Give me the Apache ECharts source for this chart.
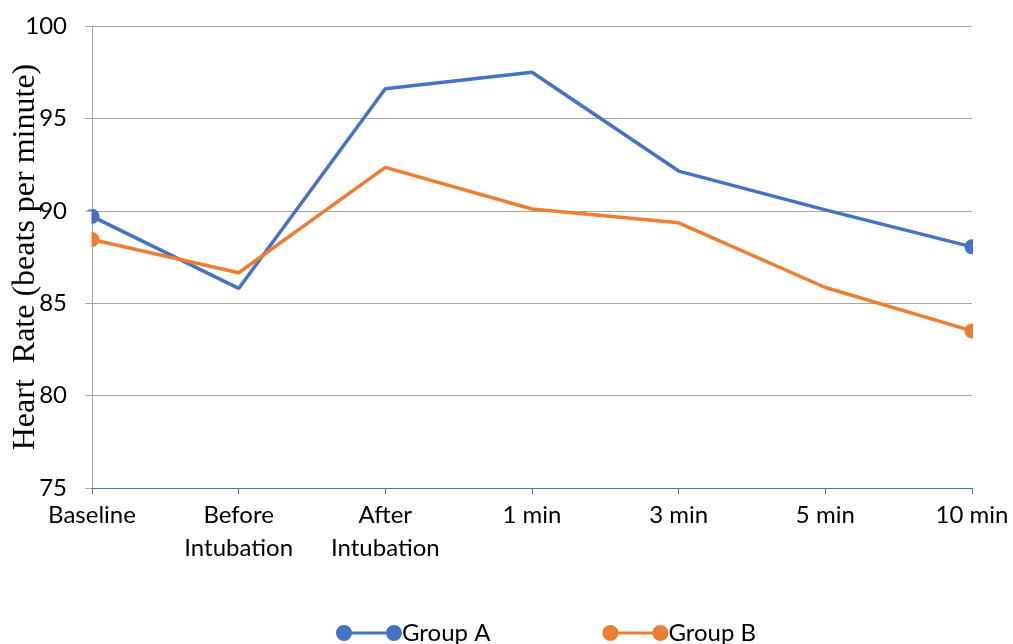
<!DOCTYPE html>
<html>
<head>
<meta charset="utf-8">
<script src="https://cdn.jsdelivr.net/npm/echarts@6/dist/echarts.min.js"></script>
<style>html,body{margin:0;padding:0;background:#fff;}#c{width:1013px;height:644px;}</style>
</head>
<body>
<div id="c"></div>
<script>
var categories = ['Baseline', 'Before\nIntubation', 'After\nIntubation', '1 min', '3 min', '5 min', '10 min'];
var groupA = [89.7, 85.8, 96.6, 97.5, 92.15, 90.05, 88.05];
var groupB = [88.45, 86.65, 92.35, 90.1, 89.35, 85.85, 83.5];
var yTicks = [75, 80, 85, 90, 95, 100];

var legendIcon = 'path://M0,8 A8,8 0 1,1 16,8 A8,8 0 1,1 0,8 Z M14,6.5 L52,6.5 L52,9.5 L14,9.5 Z M50,8 A8,8 0 1,1 66,8 A8,8 0 1,1 50,8 Z';
function endSymbol(v, p) { return (p.dataIndex === 0 || p.dataIndex === categories.length - 1) ? 15 : 0; }

var chart = echarts.init(document.getElementById('c'));
chart.setOption({
  animation: false,
  textStyle: { fontFamily: 'Lato' },
  grid: { left: 92, right: 41, top: 26, bottom: 156, outerBoundsMode: 'none', containLabel: false },
  legend: {
    top: 616, left: 331,
    itemWidth: 66, itemHeight: 16, itemGap: 112,
    textStyle: { fontSize: 24, color: '#000', fontFamily: 'Lato', padding: [0, 0, 0, -5] },
    data: [{ name: 'Group A', icon: legendIcon }, { name: 'Group B', icon: legendIcon }]
  },
  xAxis: {
    type: 'category', data: categories, boundaryGap: false,
    axisLine: { lineStyle: { color: '#4472C4', width: 1 } },
    axisTick: { show: true, length: 6, lineStyle: { color: '#4472C4' } },
    axisLabel: { fontSize: 24, color: '#000', margin: 11, lineHeight: 33, fontFamily: 'Lato' },
    splitLine: { show: false }
  },
  yAxis: {
    type: 'value', min: yTicks[0], max: yTicks[yTicks.length - 1], interval: 5,
    name: 'Heart  Rate (beats per minute)', nameLocation: 'middle', nameGap: 50, nameMoveOverlap: false,
    nameTextStyle: { fontFamily: 'Liberation Serif', fontSize: 32, color: '#000' },
    axisLine: { show: true, lineStyle: { color: '#a6a6a6', width: 1 } },
    axisTick: { show: true, length: 7, lineStyle: { color: '#a6a6a6' } },
    axisLabel: { fontSize: 24, color: '#000', margin: 25, fontFamily: 'Lato' },
    splitLine: { lineStyle: { color: '#a6a6a6', width: 1 } }
  },
  series: [
    { name: 'Group A', type: 'line', data: groupA, color: '#4472C4',
      lineStyle: { width: 3.5 }, symbol: 'circle', symbolSize: endSymbol, showAllSymbol: true },
    { name: 'Group B', type: 'line', data: groupB, color: '#ED7D31',
      lineStyle: { width: 3.5 }, symbol: 'circle', symbolSize: endSymbol, showAllSymbol: true }
  ]
});

// Mask the outer halves of the end markers so they look clipped at the plot edge (as in the reference)
var tickYs = yTicks.map(function (t) { return chart.convertToPixel({ yAxisIndex: 0 }, t); });
var masks = [];
function addMask(x0, x1, yc, avoidTicks) {
  var y0 = yc - 9, y1 = yc + 9;
  var cuts = avoidTicks ? tickYs.filter(function (ty) { return ty > y0 && ty < y1; }).sort(function (a, b) { return a - b; }) : [];
  var start = y0;
  cuts.forEach(function (ty) {
    var end = Math.floor(ty) - 0.5;
    if (end > start) masks.push({ type: 'rect', z: 100, silent: true, shape: { x: x0, y: start, width: x1 - x0, height: end - start }, style: { fill: '#fff' } });
    start = Math.floor(ty) + 1.5;
  });
  if (y1 > start) masks.push({ type: 'rect', z: 100, silent: true, shape: { x: x0, y: start, width: x1 - x0, height: y1 - start }, style: { fill: '#fff' } });
}
[groupA, groupB].forEach(function (arr) {
  var last = arr.length - 1;
  var p0 = chart.convertToPixel({ gridIndex: 0 }, [0, arr[0]]);
  var p1 = chart.convertToPixel({ gridIndex: 0 }, [last, arr[last]]);
  addMask(p0[0] - 10, Math.floor(p0[0]) - 0.5, p0[1], true);
  addMask(Math.floor(p1[0]) + 1, p1[0] + 10, p1[1], false);
});
chart.setOption({ graphic: masks });
</script>
</body>
</html>
